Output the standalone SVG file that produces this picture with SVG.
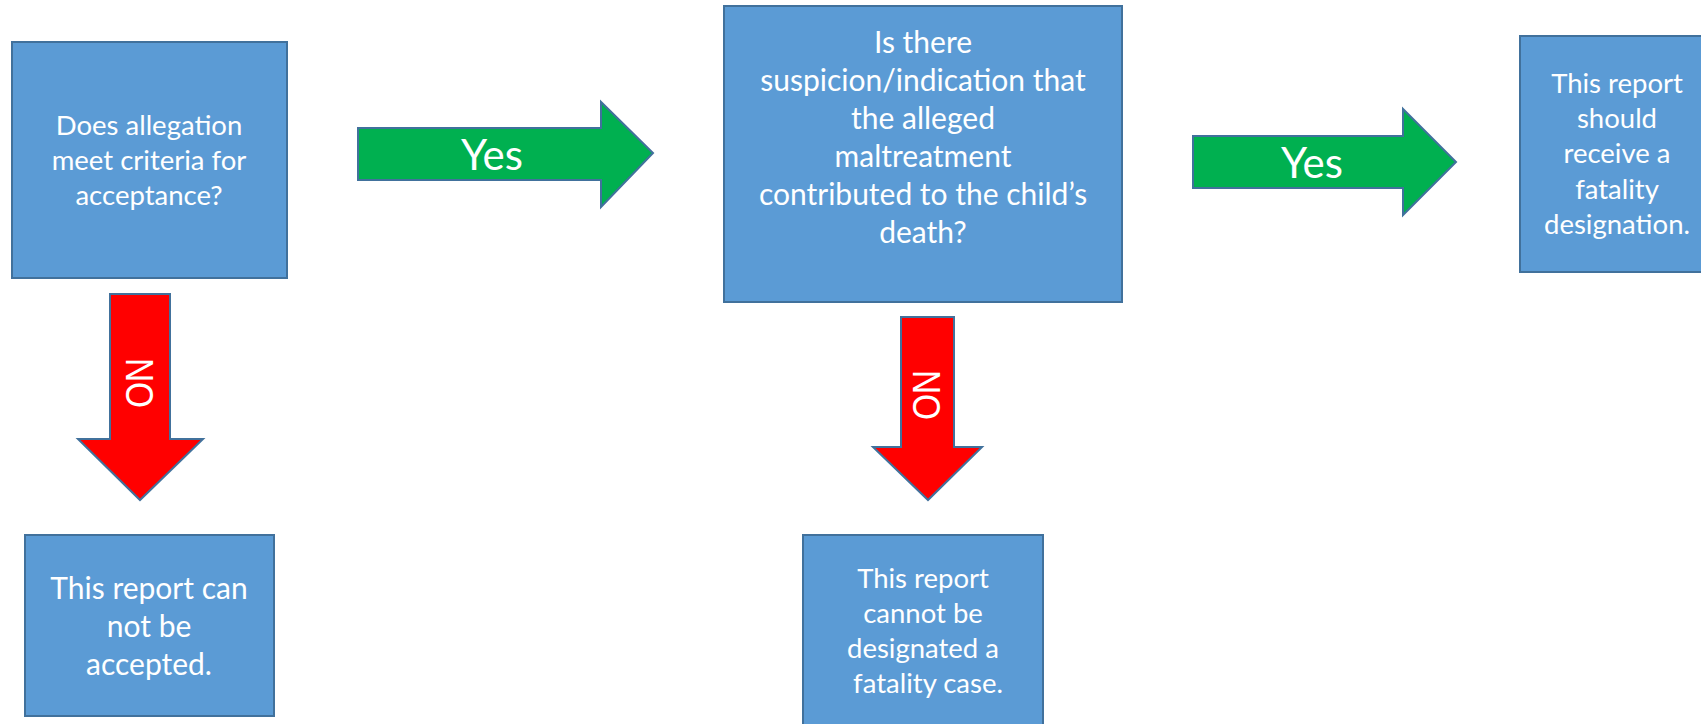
<svg xmlns="http://www.w3.org/2000/svg" width="1701" height="724" viewBox="0 0 1701 724">
<style>
.box{fill:#5B9BD5;stroke:#41719C;stroke-width:2}
.t{font-family:Lato,"Open Sans",sans-serif;fill:#fff;text-anchor:middle;font-size:27.5px}
.t2{font-size:30px}
.yes{fill:#00B050;stroke:#41719C;stroke-width:2}
.no{fill:#FF0000;stroke:#41719C;stroke-width:2}
.yt{font-family:Lato,"Open Sans",sans-serif;fill:#fff;text-anchor:middle;font-size:42px}
.nt{font-family:"Liberation Sans",Arial,sans-serif;fill:#fff;text-anchor:middle;font-size:38px}
</style>
<rect width="1701" height="724" fill="#fff"/>
<g id="connectors">
<g id="yes1"><polygon class="yes" points="358,128 601,128 601,102 653,153 601,207 601,180 358,180"/><text class="yt" x="492" y="170">Yes</text></g>
<g id="yes2"><polygon class="yes" points="1193,136 1403,136 1403,109 1456,162 1403,215 1403,188 1193,188"/><text class="yt" x="1312" y="178">Yes</text></g>
<g id="no1"><polygon class="no" points="110,294 170,294 170,439 203,439 140,500 78,439 110,439"/><text class="nt" transform="translate(125.5,383) rotate(90) scale(0.88,1)" x="0" y="0">NO</text></g>
<g id="no2"><polygon class="no" points="901,317 954,317 954,447 982,447 928,500 873,447 901,447"/><text class="nt" transform="translate(913,395) rotate(90) scale(0.88,1)" x="0" y="0">NO</text></g>
</g>
<g id="n1"><rect class="box" x="12" y="42" width="275" height="236"/>
<text class="t"><tspan x="149" y="135">Does allegation</tspan><tspan x="149" y="170">meet criteria for</tspan><tspan x="149" y="205">acceptance?</tspan></text></g>
<g id="n2"><rect class="box" x="724" y="6" width="398" height="296"/>
<text class="t t2"><tspan x="923" y="53">Is there</tspan><tspan x="923" y="91">suspicion/indication that</tspan><tspan x="923" y="129">the alleged</tspan><tspan x="923" y="167">maltreatment</tspan><tspan x="923" y="205">contributed to the child’s</tspan><tspan x="923" y="243">death?</tspan></text></g>
<g id="n3"><rect class="box" x="1520" y="36" width="194" height="236"/>
<text class="t"><tspan x="1617" y="93">This report</tspan><tspan x="1617" y="128">should</tspan><tspan x="1617" y="163">receive a</tspan><tspan x="1617" y="199">fatality</tspan><tspan x="1617" y="234">designation.</tspan></text></g>
<g id="n4"><rect class="box" x="25" y="535" width="249" height="181"/>
<text class="t t2"><tspan x="149" y="599">This report can</tspan><tspan x="149" y="637">not be</tspan><tspan x="149" y="675">accepted.</tspan></text></g>
<g id="n5"><rect class="box" x="803" y="535" width="240" height="195"/>
<text class="t"><tspan x="923" y="588">This report</tspan><tspan x="923" y="623">cannot be</tspan><tspan x="923" y="658">designated a</tspan><tspan x="928" y="693">fatality case.</tspan></text></g>
</svg>
